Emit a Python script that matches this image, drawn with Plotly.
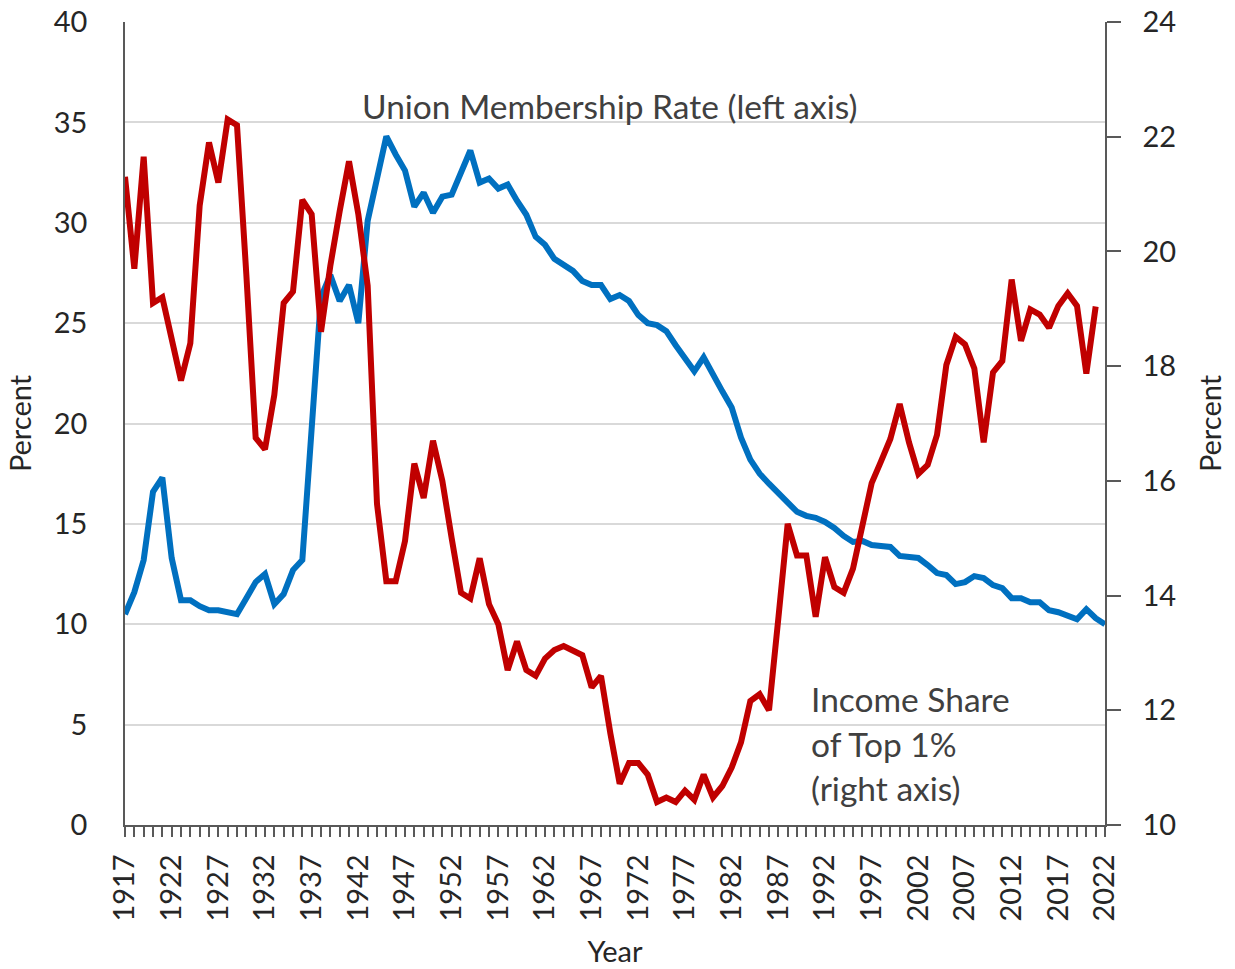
import plotly.graph_objects as go

years_union = list(range(1917, 2023))
union_rate = [
    10.5, 11.6, 13.2, 16.6, 17.3, 13.3, 11.2, 11.2, 10.9, 10.7,   # 1917-1926
    10.7, 10.6, 10.5, 11.3, 12.1, 12.5, 11.0, 11.5, 12.7, 13.2,   # 1927-1936
    20.0, 26.3, 27.4, 26.1, 26.9, 25.0, 30.1, 32.2, 34.3, 33.4,   # 1937-1946
    32.6, 30.8, 31.5, 30.5, 31.3, 31.4, 32.5, 33.6, 32.0, 32.2,   # 1947-1956
    31.7, 31.9, 31.1, 30.4, 29.3, 28.9, 28.2, 27.9, 27.6, 27.1,   # 1957-1966
    26.9, 26.9, 26.2, 26.4, 26.1, 25.4, 25.0, 24.9, 24.6, 23.9,   # 1967-1976
    23.2, 22.6, 23.3, 22.4, 21.6, 20.8, 19.3, 18.2, 17.5, 17.0,   # 1977-1986
    16.5, 16.0, 15.6, 15.4, 15.3, 15.1, 14.8, 14.4, 14.1, 14.15,  # 1987-1996
    13.95, 13.9, 13.85, 13.4, 13.35, 13.3, 12.95, 12.55, 12.45, 12.0,  # 1997-2006
    12.1, 12.4, 12.3, 11.95, 11.8, 11.3, 11.3, 11.1, 11.1, 10.7,  # 2007-2016
    10.6, 10.45, 10.25, 10.75, 10.3, 10.0                          # 2017-2022
]

years_top1 = list(range(1917, 2022))
top1_share = [
    21.3, 19.7, 21.65, 19.1, 19.2, 18.45, 17.75, 18.4, 20.8, 21.9,   # 1917-1926
    21.2, 22.3, 22.2, 19.6, 16.75, 16.55, 17.5, 19.1, 19.3, 20.9,    # 1927-1936
    20.65, 18.6, 19.75, 20.7, 21.57, 20.65, 19.4, 15.6, 14.25, 14.25,  # 1937-1946
    14.95, 16.3, 15.7, 16.7, 16.0, 15.0, 14.05, 13.95, 14.65, 13.85,   # 1947-1956
    13.5, 12.7, 13.2, 12.7, 12.6, 12.9, 13.05, 13.12, 13.04, 12.96,    # 1957-1966
    12.4, 12.6, 11.6, 10.72, 11.08, 11.08, 10.88, 10.4, 10.48, 10.4,   # 1967-1976
    10.6, 10.44, 10.88, 10.48, 10.68, 11.0, 11.44, 12.16, 12.28, 12.0, # 1977-1986
    13.6, 15.25, 14.7, 14.7, 13.63, 14.67, 14.15, 14.05, 14.47, 15.25, # 1987-1996
    15.96, 16.34, 16.73, 17.34, 16.67, 16.12, 16.28, 16.8, 18.02, 18.51,  # 1997-2006
    18.38, 17.96, 16.67, 17.89, 18.09, 19.51, 18.44, 18.99, 18.9, 18.67,  # 2007-2016
    19.05, 19.27, 19.05, 17.87, 19.04                                     # 2017-2021
]

left_ticks = [0, 5, 10, 15, 20, 25, 30, 35, 40]
right_ticks = [10, 12, 14, 16, 18, 20, 22, 24]
x_ticks = list(range(1917, 2023, 5))

FONT = "Lato"
TXT = "#262626"
NOTE = "#404040"
AXIS = "#595959"

fig = go.Figure()
fig.add_trace(go.Scatter(
    x=years_union, y=union_rate, mode="lines", name="Union Membership Rate",
    line=dict(color="#0070C0", width=6), yaxis="y", showlegend=False))
fig.add_trace(go.Scatter(
    x=years_top1, y=top1_share, mode="lines", name="Income Share of Top 1%",
    line=dict(color="#C00000", width=6), yaxis="y2", showlegend=False))

fig.update_layout(
    width=1235, height=969,
    margin=dict(l=125, r=130, t=22, b=144),
    paper_bgcolor="white", plot_bgcolor="white",
    font=dict(family=FONT, size=29, color=TXT),
    xaxis=dict(
        range=[1917, 2022], tickmode="array", tickvals=x_ticks,
        ticktext=[str(v) for v in x_ticks], tickangle=-90,
        ticks="outside", ticklen=10, tickwidth=1.5, tickcolor=AXIS,
        minor=dict(dtick=1, tick0=1917, ticks="outside", ticklen=10,
                   tickwidth=1.5, tickcolor=AXIS, showgrid=False),
        showline=True, linecolor=AXIS, linewidth=1.5,
        showgrid=False, zeroline=False, automargin=False,
        ticklabelstandoff=6, ticklabeloverflow="allow",
        tickfont=dict(family=FONT, size=29, color=TXT),
        title=dict(text="Year", standoff=21,
                   font=dict(family=FONT, size=29, color=TXT)),
    ),
    yaxis=dict(
        range=[0, 40], tickmode="array", tickvals=left_ticks,
        ticks="", showline=True, linecolor=AXIS, linewidth=1.5,
        showgrid=True, gridcolor="#D9D9D9", gridwidth=1.5, zeroline=False,
        automargin=False, ticklabelstandoff=30, ticklabeloverflow="allow",
        tickfont=dict(family=FONT, size=29, color=TXT),
        title=dict(text="Percent", standoff=14,
                   font=dict(family=FONT, size=29, color=TXT)),
    ),
    yaxis2=dict(
        range=[10, 24], tickmode="array", tickvals=right_ticks,
        overlaying="y", side="right",
        ticks="outside", ticklen=14, tickwidth=1.5, tickcolor=AXIS,
        showline=True, linecolor=AXIS, linewidth=1.5,
        showgrid=False, zeroline=False, automargin=False,
        ticklabelstandoff=16, ticklabeloverflow="allow",
        tickfont=dict(family=FONT, size=29, color=TXT),
        title=dict(text="Percent", standoff=26,
                   font=dict(family=FONT, size=29, color=TXT)),
    ),
    annotations=[
        dict(text="Union Membership Rate (left axis)", xref="paper", yref="paper",
             x=0.240, y=0.895, xanchor="left", yanchor="middle", showarrow=False,
             font=dict(family=FONT, size=33.5, color=NOTE)),
        dict(text="Income Share", xref="paper", yref="paper",
             x=0.698, y=0.157, xanchor="left", yanchor="middle", showarrow=False,
             font=dict(family=FONT, size=33.5, color=NOTE)),
        dict(text="of Top 1%", xref="paper", yref="paper",
             x=0.698, y=0.101, xanchor="left", yanchor="middle", showarrow=False,
             font=dict(family=FONT, size=33.5, color=NOTE)),
        dict(text="(right axis)", xref="paper", yref="paper",
             x=0.698, y=0.046, xanchor="left", yanchor="middle", showarrow=False,
             font=dict(family=FONT, size=33.5, color=NOTE)),
    ],
)

fig.write_html(
    "out.html",
    config={"displayModeBar": False},
    post_script="document.body.style.margin='0';document.body.style.overflow='hidden';",
)
